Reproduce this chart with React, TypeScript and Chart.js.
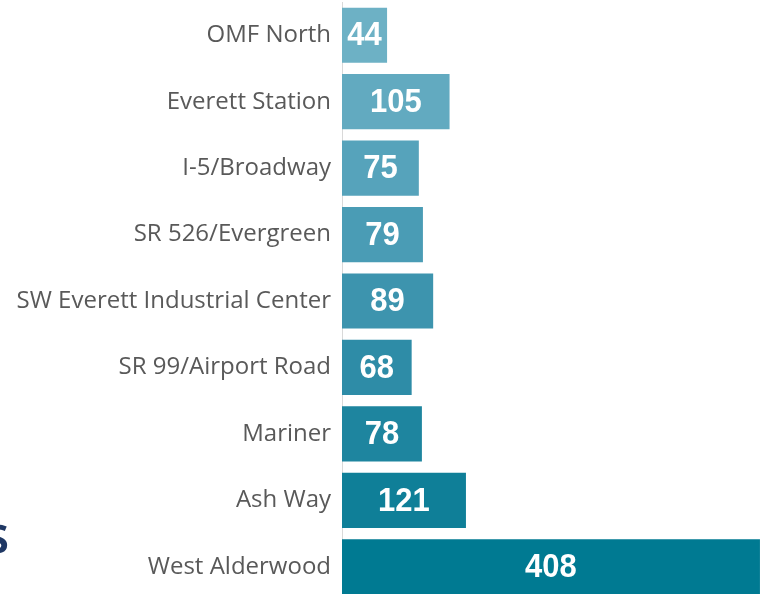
import React, { useEffect, useRef } from "react";
import { Chart, registerables } from "chart.js";

Chart.register(...registerables);

const categories = [
  "OMF North",
  "Everett Station",
  "I-5/Broadway",
  "SR 526/Evergreen",
  "SW Everett Industrial Center",
  "SR 99/Airport Road",
  "Mariner",
  "Ash Way",
  "West Alderwood",
];
const values = [44, 105, 75, 79, 89, 68, 78, 121, 408];
const barColors = [
  "#6db1c5",
  "#62aac0",
  "#56a3bb",
  "#4a9cb5",
  "#3d94ae",
  "#2e8ca7",
  "#1e859f",
  "#0f7f98",
  "#007a92",
];

const valueLabelPlugin = {
  id: "valueLabels",
  afterDatasetsDraw(chart: any) {
    const ctx = chart.ctx;
    const meta = chart.getDatasetMeta(0);
    ctx.save();
    ctx.fillStyle = "#ffffff";
    ctx.font = "bold 31px 'Liberation Sans', Arial, sans-serif";
    ctx.textAlign = "center";
    ctx.textBaseline = "middle";
    meta.data.forEach((bar: any, i: number) => {
      const cx = (bar.x + bar.base) / 2;
      const cy = bar.y + 1;
      ctx.save();
      ctx.translate(cx, cy);
      ctx.scale(1, 1.08);
      ctx.fillText(String(values[i]), 0, 0);
      ctx.restore();
    });
    ctx.restore();
  },
};

export default function App() {
  const ref = useRef<HTMLCanvasElement | null>(null);
  useEffect(() => {
    if (!ref.current) return;
    const chart = new Chart(ref.current, {
      type: "bar",
      data: {
        labels: categories,
        datasets: [
          {
            data: values,
            backgroundColor: barColors,
            borderWidth: 0,
            barPercentage: 0.83,
            categoryPercentage: 1,
          },
        ],
      },
      options: {
        indexAxis: "y",
        animation: false,
        responsive: false,
        maintainAspectRatio: false,
        layout: { padding: { top: 2, right: 1, bottom: 0, left: 0 } },
        plugins: {
          legend: { display: false },
          tooltip: { enabled: false },
        },
        scales: {
          x: {
            display: false,
            min: 0,
            max: 410,
          },
          y: {
            grid: { display: false, drawTicks: false },
            border: { display: true, color: "#d9d9d9", width: 1 },
            ticks: {
              color: "#595959",
              font: { family: "'Open Sans', sans-serif", size: 24 },
              padding: 11,
            },
            afterFit(scale: any) {
              scale.width = 342;
              scale.paddingTop = 0;
              scale.paddingBottom = 0;
            },
          },
        },
      },
      plugins: [valueLabelPlugin],
    });
    return () => chart.destroy();
  }, []);
  return (
    <div style={{ position: "absolute", left: 0, top: 0, width: 763, height: 594, overflow: "hidden", background: "#fff" }}>
      <canvas ref={ref} width={763} height={600} style={{ position: "absolute", left: 0, top: 0 }} />
      <span
        style={{
          position: "absolute",
          left: -16,
          top: 498,
          fontFamily: "'Open Sans', sans-serif",
          fontWeight: 600,
          fontSize: 52,
          color: "#1f3864",
          lineHeight: "70px",
        }}
      >
        s
      </span>
    </div>
  );
}
